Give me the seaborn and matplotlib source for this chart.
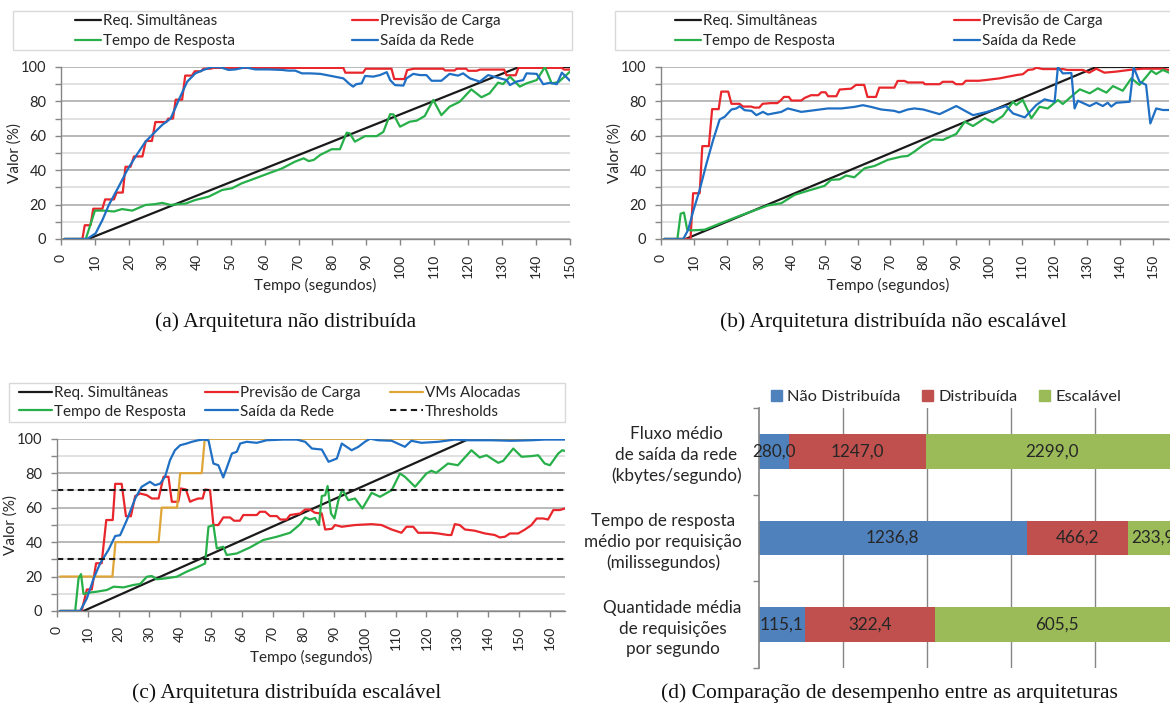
import numpy as np
import pandas as pd
import seaborn as sns
import matplotlib
matplotlib.use("Agg")
import matplotlib.pyplot as plt
from matplotlib.patches import Rectangle, Patch
from matplotlib.ticker import MultipleLocator

# ---------------------------------------------------------------- data
# (a) non-distributed architecture
A_REQ_T = [1, 8, 135, 150]
A_REQ_V = [0, 0, 100, 100]
A_PRED_T = [1, 6.3, 7, 8.7, 9.5, 12.2, 13, 15.6, 16.4, 18.2, 19, 20.5, 21.5, 24, 25, 26.8, 27.8, 31,
            31.6, 33, 33.8, 35.7, 36.6, 38.6, 39.4, 41.2, 42, 44, 45, 83.2, 83.8, 89, 89.8, 97.4, 98.2,
            101.2, 102, 104, 112.6, 113.2, 116, 116.6, 119.4, 120, 122.5, 123.5, 130.6, 131.3, 134,
            134.8, 147.5, 148.3, 150]
A_PRED_V = [0, 0, 8, 8, 17.6, 17.6, 23, 23, 27, 27, 42, 42, 48, 48, 57, 57, 68, 68,
            70, 70, 81, 81, 95, 95, 97.5, 97.5, 99, 99, 99.5, 99.5, 96.7, 96.7, 99, 99, 93,
            93, 98.2, 99, 99, 98, 98, 99, 99, 97.8, 97.8, 98.5, 98.5, 95.2, 95.2,
            99.5, 99.5, 98.5, 98.5]
A_RESP_T = [1, 7.3, 10, 12.5, 15.6, 18, 21, 24.9, 27.8, 29.8, 32.3, 34.7, 36.7, 39.6, 43.5, 47.5,
            50.4, 53.3, 57.3, 61.2, 65.1, 69, 71.5, 73, 74.5, 76.4, 79.8, 82.2, 84.2, 85.1, 86.6,
            89.6, 93, 95, 97, 98, 99.9, 102.8, 104.8, 107.2, 109.7, 112.1, 114.5, 117.5, 120.9,
            123.9, 126.3, 128.8, 130.3, 132.3, 135.2, 137.2, 140.2, 142.6, 144.6, 146.6, 150]
A_RESP_V = [0, 0, 16.5, 16.5, 16, 17.4, 16.5, 19.8, 20.3, 21, 19.8, 20.3, 20.6, 22.7, 24.6, 28.5,
            29.5, 32.4, 35.3, 38.2, 41, 45, 46.9, 45.3, 46, 48.9, 52.2, 52.2, 61.8, 61.4, 56.6,
            59.8, 59.8, 62.3, 72.6, 72.4, 65.3, 68.2, 68.8, 71.5, 80.8, 72, 76.9, 79.8, 87,
            82.4, 84.7, 90.9, 90.1, 94.4, 88.6, 90.5, 92.4, 100, 90.5, 91.2, 97.3]
A_NET_T = [1, 7.7, 10.2, 12.2, 14.1, 17.1, 19.5, 22, 24.9, 27.8, 29.8, 32.3, 34.7, 37.2, 39.6, 42,
           44.5, 47, 49.4, 51.4, 54.3, 57.3, 61.2, 65.1, 67, 69, 71, 73.4, 76.4, 78.3, 83.2, 85.1,
           86.1, 87, 88.6, 89.6, 92, 94, 96, 97, 98.4, 100.9, 101.8, 103.8, 105.8, 107.7, 109.2,
           112.1, 114.5, 117, 118.5, 120.5, 123.4, 125.9, 128.3, 131.3, 132.3, 134.2, 136.2,
           137.2, 140.2, 142.1, 144.1, 146.1, 147.6, 150]
A_NET_V = [0, 0, 3.3, 11, 19.8, 30.8, 40, 48, 56.6, 62.4, 66.3, 70, 80.8, 91.5, 96.3, 98.3,
           100, 99.8, 98.3, 98.6, 99.8, 98.6, 98.6, 98.3, 97.9, 97.9, 96.3, 96.3, 96, 95.3, 93.4, 90,
           88.6, 90, 90.5, 94.8, 94.4, 95.3, 97, 92.4, 89.5, 89.2, 93.4, 96, 95.3, 95.3, 92,
           92, 96, 95, 96.3, 93.4, 91.5, 95.3, 94, 92.4, 89.5, 91.5, 92.4,
           96.3, 96, 90, 90.8, 90, 96.7, 92]

# (b) distributed, non-scalable architecture
B_REQ_T = [1, 7.5, 132.8, 155]
B_REQ_V = [0, 0, 100, 100]
B_PRED_T = [1, 9, 9.8, 11.8, 12.6, 14.6, 15.6, 17.6, 18.4, 20.5, 21.5, 24, 25, 27.5, 28.5, 30, 31,
            33.5, 35.5, 36.5, 37.5, 39, 39.8, 42.8, 43.8, 45.8, 48, 48.9, 50.2, 51, 53.5, 54.5, 58,
            59.5, 62, 63, 65.6, 66.6, 71.2, 72.2, 74.3, 75.3, 80, 80.5, 85, 86, 89, 90, 92, 93, 97,
            99, 103.3, 108.4, 110.4, 112, 113.5, 114.5, 116.5, 122.6, 124, 128.7, 130.7, 132.8,
            135.3, 138.8, 142.9, 147, 153, 155]
B_PRED_V = [0, 0, 26.6, 26.6, 54, 54, 75.5, 75.5, 85.7, 85.7, 78.6, 78.6, 77, 77, 76.4, 76.4, 78.6,
            79, 79, 80.5, 82.6, 82.6, 80.5, 80.5, 82, 83.6, 83.6, 85.3, 85.3, 83, 83, 86.9, 87.4,
            89.6, 89.6, 82.6, 82.6, 88, 88, 91.9, 91.9, 91, 91, 90, 90, 91.4, 91.4, 90, 90, 92, 92,
            92.4, 93.4, 95.3, 95.8, 98.3, 98.6, 99.6, 98.8, 98.8, 98.3, 98.3, 96.7, 99,
            96.7, 97.3, 98.3, 99, 99, 98.3]
B_RESP_T = [1, 5, 6, 7, 8, 9.3, 13.3, 18.4, 23.5, 29.6, 32.6, 36.7, 40.8, 45.8, 49.9, 51.9, 54.5,
            56.5, 59, 62.1, 65.2, 69.2, 73.3, 75.3, 77.3, 80, 83, 86, 90.1, 92.7, 95.2, 98.8, 101.3,
            104.3, 107.4, 108.4, 110.4, 113, 115.5, 118, 121.1, 122.6, 125.7, 127.8, 130.8, 133.3,
            135.9, 137.9, 140.9, 143.5, 146, 148.5, 149.6, 151.1, 153.1, 155]
B_RESP_V = [0, 0, 14.7, 15.4, 5.4, 5, 5.4, 9.3, 13.1, 17.4, 19.5, 20.8, 25.7, 28.6, 30.9, 34.4, 34.7,
            36.9, 35.9, 41.1, 42.5, 46, 47.9, 48.3, 50.8, 54.6, 57.9, 57.6, 61.1, 68.2, 65.7, 70.2, 67.7,
            71.5, 79.8, 77.9, 80.8, 70.2, 76.9, 75.9, 80.8, 78.5, 83.7, 87, 84.7, 87.6,
            85.1, 88.9, 86.2, 93.4, 89.6, 95.3, 97.9, 95.9, 98.3, 96.7]
B_NET_T = [1, 6.8, 8.3, 9.8, 11.8, 13.9, 15.9, 17.9, 19.4, 21.5, 23, 24, 25.5, 27.6, 29.1, 31.1, 32.6,
           36.7, 38.7, 40.8, 42.8, 46.9, 50.9, 55, 59, 61.6, 64.1, 67.2, 71.2, 72.7, 75.3, 77.3, 80,
           85, 90.1, 95.2, 99.3, 105.3, 107.4, 111, 114.5, 117, 120.1, 121.1, 122.6, 125.2, 126.2,
           127.2, 130.8, 132.8, 134.8, 136.3, 137.4, 138.9, 143, 144.2, 146, 148, 149.3, 151.1,
           153.1, 155]
B_NET_V = [0, 0, 5.4, 16, 28.6, 44, 57.5, 69.5, 71, 75.3, 75.9, 77.2, 74.9, 74.5, 72, 73.9, 72.4,
           73.9, 75.9, 74.9, 73.9, 74.9, 75.9, 75.9, 76.8, 77.8, 76.8, 75.3, 74.5, 73.6, 75.3, 75.9, 75.3,
           72.6, 77.3, 72, 73.8, 77.3, 73, 70.7, 77.9, 81.2, 79.8, 100, 96.3, 96.5, 75.9,
           80.4, 77.3, 79.2, 77.3, 79.2, 77, 79.2, 79.8, 99.8, 91.5, 89.6, 67.2, 75.9,
           75, 75]

# (c) distributed, scalable architecture
C_REQ_T = [1, 8.6, 134, 165]
C_REQ_V = [0, 0, 100, 100]
C_VMS_T = [1, 18, 19, 33, 34, 39, 40, 47, 48, 165]
C_VMS_V = [20, 20, 40, 40, 60, 60, 80, 80, 100, 100]
C_PRED_T = [1, 8, 9.7, 11.3, 12.7, 14.5, 16, 18.1, 18.9, 21, 22.4, 24, 25.4, 27, 29.2, 30.8, 33, 34.6,
            36.2, 37.3, 39.4, 40.2, 41.9, 43.2, 44.3, 45.9, 47.3, 48.1, 49.7, 50.8, 52.4, 54, 56.2,
            57.5, 59.4, 60.5, 64.9, 65.9, 67.6, 69.2, 71.4, 72.5, 74.6, 75.7, 79, 80.6, 82.2, 83.8,
            86, 87.1, 89.3, 90.3, 92.5, 96.8, 102.2, 105.4, 108.7, 111.9, 113.5, 115.7, 117.3,
            121.6, 123.8, 127, 128.1, 129.2, 130.8, 132.5, 135.7, 139, 142.2, 143.8, 145.5, 147.1,
            149.8, 152, 154.1, 155.8, 157.9, 159.5, 161.2, 163.3, 165]
C_PRED_V = [0, 0, 12.5, 12.5, 27.7, 27.7, 52.8, 52.8, 73.8, 73.8, 55, 55, 66.7, 68.2, 67.2, 65.3, 65.3, 77.9,
            77.9, 63.4, 63.4, 71.1, 70.5, 63.4, 64.3, 65.3, 65.3, 70.5, 70.1, 49.9, 49.9, 54.3, 54.3,
            52.4, 52.4, 55.7, 55.7, 57.6, 57.6, 55.1, 55.1, 53.1, 53.1, 55.7, 56.6, 58.9, 58.9, 57,
            56.6, 47.3, 47.7, 49.9, 48.9, 49.9, 50.4, 49.9, 47.3, 45.4, 48.9, 48.9, 45.4,
            45.4, 45, 44.1, 44.1, 50.4, 49.9, 47.3, 46.6, 45, 44.1, 42.7, 43.1, 45,
            45, 47.3, 49.9, 53.7, 53.7, 53.1, 58.6, 58.6, 59.5]
C_RESP_T = [1, 5.9, 7, 7.8, 8.6, 10.2, 12.9, 16.2, 18.4, 21.6, 24.8, 27, 29.2, 30.8, 32.4, 35.1, 38.9,
            42.1, 45.4, 48.1, 49.2, 50.8, 51.9, 54, 55.1, 58.4, 62.7, 67, 71.4, 75.7, 79, 80.6, 82.2,
            83.8, 85.1, 86, 87.1, 87.9, 89, 90.1, 91.4, 92.7, 94.6, 96.8, 99.2, 102.2, 104.9, 108.7,
            111.4, 113, 116.3, 120, 121.6, 123.2, 127, 130.2, 134.6, 137.3, 139.5, 143.3, 144.9,
            148.2, 150.9, 154.1, 156.3, 158.4, 160.1, 162.8, 164.1, 165]
C_RESP_V = [0, 0, 18.9, 21.4, 9.9, 10.6, 11.2, 12.2, 14.1, 13.7, 15.1, 15.7, 19.9, 20.3, 18.4, 18.9, 19.9,
            22.8, 25.3, 27.6, 48.9, 49.9, 36.3, 37.3, 32.5, 33.4, 36.9, 41.2, 43.1, 45.4, 50.4, 54.3, 53.1,
            54, 49.9, 66.7, 67.2, 72.5, 56.6, 53.7, 64.3, 70.5, 64.3, 65.3, 59.5, 68.6, 66.3, 70.1,
            79.8, 77.9, 72.1, 79.8, 81.4, 80.2, 85.6, 84.6, 93.3, 89.1, 90.4, 86, 87.1,
            94.3, 89.5, 89.9, 90.4, 85.6, 84.6, 91.4, 93.3, 92.9]
C_NET_T = [1, 7.5, 9.7, 11.9, 14, 16.7, 18.9, 20.5, 22.7, 25.4, 27.5, 30.2, 31.8, 33.5, 35.1, 36.7,
           38.3, 40, 42.1, 43.8, 45.9, 47.5, 49.2, 50.8, 52.4, 54, 55.1, 56.8, 58.4, 59.5, 61.6, 64.9,
           68.1, 73.5, 77.9, 80.6, 82.8, 86, 88.2, 90.9, 92.5, 95.7, 97.9, 100, 101.7, 104.3, 108.7,
           113, 115.1, 118.4, 123.8, 129.2, 133.5, 141.1, 147.6, 154.1, 158.4, 165]
C_NET_V = [0, 0, 7.3, 18.9, 27.6, 35.4, 43.5, 44, 52.8, 65.3, 72.1, 75, 73, 73.9, 77.9, 87.5,
           93.3, 96.2, 97.2, 98.2, 99.1, 99.5, 99.1, 85.6, 84.6, 77.5, 82.9, 91.4, 92.4, 97.2, 98.2, 97.6,
           99.1, 99.5, 99.5, 98.2, 94.3, 93.7, 86.6, 88.5, 97.2, 93.3, 95.3, 98.2, 100, 99.1, 98.8,
           95.3, 98.8, 97.6, 98.2, 99.5, 99.1, 99.1, 98.8, 99.1, 99.5, 99.5]
C_THRESHOLDS = [70, 30]

# (d) performance comparison
D_CATEGORIES = ["Fluxo médio\nde saída da rede\n(kbytes/segundo)",
                "Tempo de resposta\nmédio por requisição\n(milissegundos)",
                "Quantidade média\nde requisições\npor segundo"]
D_SERIES = ["Não Distribuída", "Distribuída", "Escalável"]
D_NAO_DIST = [280.0, 1236.8, 115.1]
D_DIST = [1247.0, 466.2, 322.4]
D_ESCAL = [2299.0, 233.9, 605.5]

# ---------------------------------------------------------------- style
sns.set_theme(style="white")
plt.rcParams["font.family"] = ["Lato", "DejaVu Sans"]
TXT = "#262626"
SPINE = "#868686"
COL = {"req": "#1a1a1a", "pred": "#e8262b", "resp": "#27b04a",
       "net": "#1f6fc4", "vms": "#dfa537"}
D_COLORS = ["#4f81bd", "#c0504d", "#9bbb59"]
FS = 11          # legends and axis titles
FS_TICK = 10     # tick labels of the line charts
FS_D = 12.3      # text of the bar chart
FS_PX = FS * 100 / 72
SERIF = ["Liberation Serif", "DejaVu Serif"]
CAP_FS = 15.5

W, H = 1170, 704
fig = plt.figure(figsize=(W / 100, H / 100), dpi=100)


def box(px_l, px_t, px_w, px_h):
    return [px_l / W, 1 - (px_t + px_h) / H, px_w / W, px_h / H]


def style_line_axes(ax, xmax, xticks):
    ax.set_xlim(0, xmax)
    ax.set_ylim(0, 100)
    ax.set_xticks(xticks)
    ax.set_xticklabels([str(t) for t in xticks], rotation=90, fontsize=FS_TICK, color=TXT)
    ax.yaxis.set_major_locator(MultipleLocator(20))
    ax.yaxis.set_minor_locator(MultipleLocator(10))
    ax.set_yticklabels([str(int(v)) for v in ax.get_yticks()], fontsize=FS_TICK + 0.5, color=TXT)
    ax.grid(axis="y", which="major", color="#a6a6a6", lw=1.1)
    ax.grid(axis="y", which="minor", color="#d9d9d9", lw=1.1)
    ax.set_axisbelow(True)
    for s in ("top", "right"):
        ax.spines[s].set_visible(False)
    for s in ("left", "bottom"):
        ax.spines[s].set_color(SPINE)
        ax.spines[s].set_linewidth(1.0)
    ax.tick_params(axis="both", which="both", direction="out", color=SPINE, width=1.0)
    ax.tick_params(axis="y", which="major", length=4.5, pad=6, left=True)
    ax.tick_params(axis="y", which="minor", length=4.5, left=True)
    ax.tick_params(axis="x", which="major", length=4.5, pad=6, bottom=True)
    ax.set_xlabel("Tempo (segundos)", fontsize=FS, color=TXT)
    ax.set_ylabel("Valor (%)", fontsize=FS, color=TXT)
    ax.xaxis.label.set_va("center")
    ax.yaxis.label.set_va("center")


def draw(ax, t, v, key, label, lw=1.6):
    sns.lineplot(x=t, y=v, ax=ax, color=COL[key], lw=lw, estimator=None, sort=False,
                 legend=False, label=label)


def legend_column(handles, labels, x_px, y_px, handle_px, spacing):
    fig.legend(handles, labels, loc="center left", bbox_to_anchor=(x_px / W, 1 - y_px / H),
               frameon=False, borderpad=0, borderaxespad=0, fontsize=FS,
               handlelength=handle_px / FS_PX, handletextpad=0.1, labelspacing=spacing,
               labelcolor=TXT)


def legend_frame(l, t, r, b):
    fig.add_artist(Rectangle((l / W, 1 - b / H), (r - l) / W, (b - t) / H,
                             transform=fig.transFigure, fill=False, ec="#d9d9d9", lw=1.0))


# ---------------------------------------------------------------- (a)
axA = fig.add_axes(box(61, 67, 509, 172))
draw(axA, A_REQ_T, A_REQ_V, "req", "Req. Simultâneas")
draw(axA, A_PRED_T, A_PRED_V, "pred", "Previsão de Carga")
draw(axA, A_RESP_T, A_RESP_V, "resp", "Tempo de Resposta")
draw(axA, A_NET_T, A_NET_V, "net", "Saída da Rede")
style_line_axes(axA, 150, list(range(0, 151, 10)))
axA.xaxis.set_label_coords(0.5, (239 - 285) / 172)
axA.yaxis.set_label_coords((15 - 61) / 509, 0.5)
hA, lA = axA.get_legend_handles_labels()
legend_frame(13, 11, 572, 50)
legend_column([hA[0], hA[2]], [lA[0], lA[2]], 75, 31, 26, 0.4)
legend_column([hA[1], hA[3]], [lA[1], lA[3]], 352, 31, 26, 0.4)
fig.text(286 / W, 1 - 322 / H, "(a) Arquitetura não distribuída", ha="center", va="center",
         family=SERIF, fontsize=CAP_FS, color="#111111")

# ---------------------------------------------------------------- (b)
axB = fig.add_axes(box(661, 67, 508, 172))
draw(axB, B_REQ_T, B_REQ_V, "req", "Req. Simultâneas")
draw(axB, B_PRED_T, B_PRED_V, "pred", "Previsão de Carga")
draw(axB, B_RESP_T, B_RESP_V, "resp", "Tempo de Resposta")
draw(axB, B_NET_T, B_NET_V, "net", "Saída da Rede")
style_line_axes(axB, 155, list(range(0, 151, 10)))
axB.xaxis.set_label_coords((888 - 661) / 508, (239 - 285) / 172)
axB.yaxis.set_label_coords((615 - 661) / 508, 0.5)
hB, lB = axB.get_legend_handles_labels()
legend_frame(615, 11, 1175, 50)
legend_column([hB[0], hB[2]], [lB[0], lB[2]], 675, 31, 26, 0.4)
legend_column([hB[1], hB[3]], [lB[1], lB[3]], 954, 31, 26, 0.4)
fig.text(893 / W, 1 - 322 / H, "(b) Arquitetura distribuída não escalável", ha="center",
         va="center", family=SERIF, fontsize=CAP_FS, color="#111111")

# ---------------------------------------------------------------- (c)
axC = fig.add_axes(box(57, 438.7, 508, 172.3))
draw(axC, C_REQ_T, C_REQ_V, "req", "Req. Simultâneas")
draw(axC, C_PRED_T, C_PRED_V, "pred", "Previsão de Carga")
draw(axC, C_VMS_T, C_VMS_V, "vms", "VMs Alocadas")
draw(axC, C_RESP_T, C_RESP_V, "resp", "Tempo de Resposta")
draw(axC, C_NET_T, C_NET_V, "net", "Saída da Rede")
for i, thr in enumerate(C_THRESHOLDS):
    axC.axhline(thr, color="#1a1a1a", lw=1.5, ls=(0, (3, 2)),
                label="Thresholds" if i == 0 else None)
style_line_axes(axC, 165, list(range(0, 161, 10)))
axC.xaxis.set_label_coords(0.5, (611 - 657) / 172.3)
axC.yaxis.set_label_coords((11 - 57) / 508, 0.5)
hC, lC = axC.get_legend_handles_labels()
legend_frame(9, 383, 565, 422)
legend_column([hC[0], hC[3]], [lC[0], lC[3]], 19, 402.5, 33, 0.3)
legend_column([hC[1], hC[4]], [lC[1], lC[4]], 205, 402.5, 33, 0.3)
legend_column([hC[2], hC[5]], [lC[2], lC[5]], 390, 402.5, 33, 0.3)
fig.text(287 / W, 1 - 693 / H, "(c) Arquitetura distribuída escalável", ha="center", va="center",
         family=SERIF, fontsize=CAP_FS, color="#111111")

# ---------------------------------------------------------------- (d)
axD = fig.add_axes(box(758.5, 408, 420, 260))
df = pd.DataFrame({"categoria": D_CATEGORIES, D_SERIES[0]: D_NAO_DIST,
                   D_SERIES[1]: D_DIST, D_SERIES[2]: D_ESCAL})
totals = df[D_SERIES].sum(axis=1)
ypos = np.arange(len(D_CATEGORIES))
left = np.zeros(len(D_CATEGORIES))
for name, color in zip(D_SERIES, D_COLORS):
    share = (df[name] / totals * 100).to_numpy()
    bars = axD.barh(ypos, share, left=left, height=0.4, color=color, label=name, lw=0)
    axD.bar_label(bars, labels=[f"{v:.1f}".replace(".", ",") for v in df[name]],
                  label_type="center", fontsize=FS_D, color=TXT)
    left = left + share
axD.set_xlim(0, 100)
axD.set_ylim(len(D_CATEGORIES) - 0.5, -0.5)
axD.set_xticks([20, 40, 60, 80, 100])
axD.tick_params(axis="x", bottom=False, labelbottom=False)
axD.grid(axis="x", color=SPINE, lw=1.0)
axD.grid(axis="y", visible=False)
axD.set_axisbelow(True)
for s in ("top", "right", "bottom"):
    axD.spines[s].set_visible(False)
axD.spines["left"].set_color(SPINE)
axD.set_yticks(ypos)
axD.set_yticklabels(D_CATEGORIES, fontsize=FS_D, color=TXT, ha="right", multialignment="center",
                    linespacing=1.36)
axD.tick_params(axis="y", which="major", length=0, pad=12)
axD.set_yticks(np.arange(-0.5, len(D_CATEGORIES), 1.0), minor=True)
axD.tick_params(axis="y", which="minor", length=4, color=SPINE, direction="out", left=True)
fig.legend(handles=[Patch(color=c) for c in D_COLORS], labels=D_SERIES, loc="center left",
           bbox_to_anchor=(771 / W, 1 - 397 / H), ncol=3, frameon=False, borderpad=0,
           borderaxespad=0, fontsize=FS_D - 0.5, handlelength=0.65, handleheight=0.65,
           handletextpad=0.35, columnspacing=1.3, labelcolor=TXT)
fig.text(889 / W, 1 - 693 / H, "(d) Comparação de desempenho entre as arquiteturas",
         ha="center", va="center", family=SERIF, fontsize=CAP_FS, color="#111111")

fig.savefig("out.png", dpi=100)
